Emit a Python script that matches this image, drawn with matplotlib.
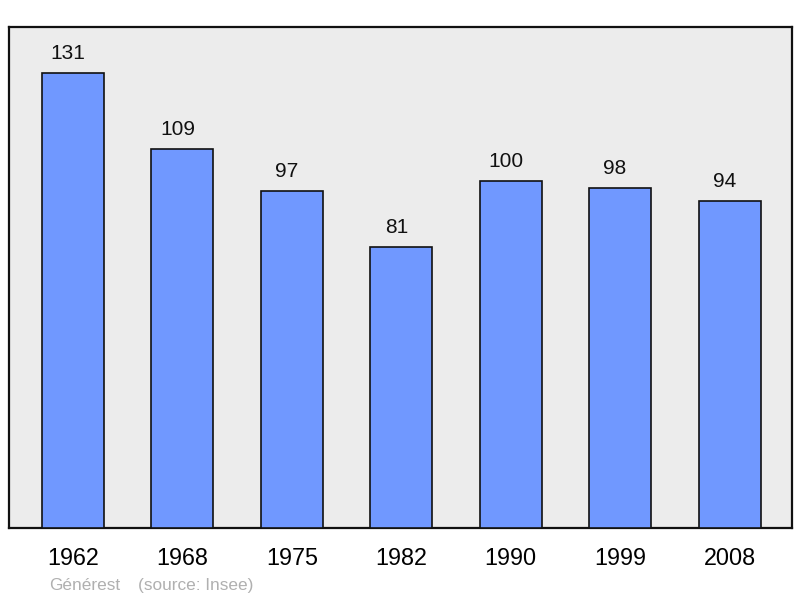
import matplotlib
matplotlib.use("Agg")
import matplotlib.pyplot as plt

years = ["1962", "1968", "1975", "1982", "1990", "1999", "2008"]
population = [131, 109, 97, 81, 100, 98, 94]

plt.rcParams['font.family'] = ['Liberation Sans', 'DejaVu Sans']

W, H = 800, 598
fig = plt.figure(figsize=(W/100, H/100), dpi=100)
ax = fig.add_axes([9/W, (H-528)/H, 783/W, 501/H])
ax.set_facecolor('#ececec')
ax.set_xlim(-0.585, 6.571)
ax.set_ylim(0, 144.2)

x = list(range(len(years)))
ax.bar(x, population, width=0.567, color='#7098ff', edgecolor='#111111', linewidth=1.2, zorder=3)
for xi, v in zip(x, population):
    ax.annotate(str(v), (xi, v), xytext=(-5, 19.5), textcoords='offset pixels',
                ha='center', va='center', fontsize=15, color='#111111')

ax.set_xticks(x)
ax.set_xticklabels(years, fontsize=16.8)
ax.tick_params(axis='x', length=0, pad=14)
ax.set_yticks([])
for s in ax.spines.values():
    s.set_linewidth(1.6)
    s.set_color('#111111')

fig.text(49/W, 1-590/H, "Générest", fontsize=12.4, color='#b0b0b0', va='baseline', ha='left')
fig.text(138/W, 1-590/H, "(source: Insee)", fontsize=12.4, color='#b0b0b0', va='baseline', ha='left')

fig.savefig("out.png", dpi=100)
